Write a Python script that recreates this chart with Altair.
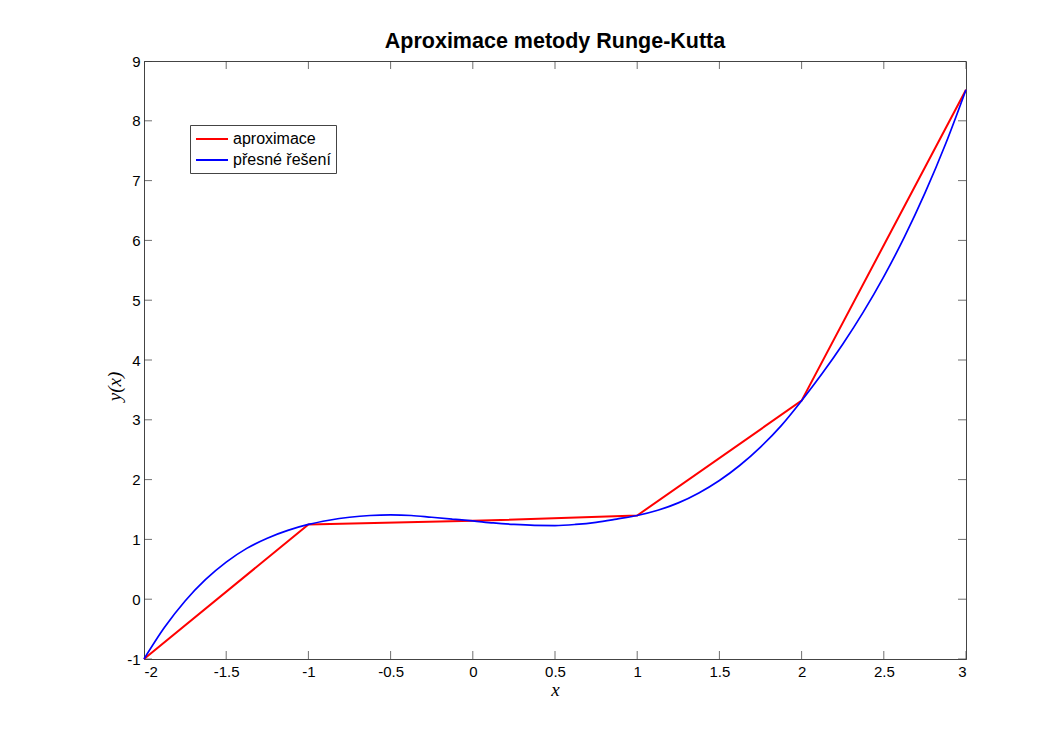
import altair as alt
import pandas as pd

# Runge-Kutta approximation (nodes)
approx_x = [-2, -1, 0, 1, 2, 3]
approx_y = [-1.00, 1.25, 1.31, 1.40, 3.32, 8.52]

# exact solution
exact_x = [-2, -1.875, -1.75, -1.625, -1.5, -1.375, -1.25, -1.125, -1,
           -0.875, -0.75, -0.625, -0.5, -0.375, -0.25, -0.125, 0,
           0.125, 0.25, 0.375, 0.5, 0.625, 0.75, 0.875, 1,
           1.125, 1.25, 1.375, 1.5, 1.625, 1.75, 1.875, 2,
           2.125, 2.25, 2.375, 2.5, 2.625, 2.75, 2.875, 3]
exact_y = [-1.00, -0.47, -0.03, 0.33, 0.62, 0.85, 1.02, 1.15, 1.25,
           1.32, 1.37, 1.40, 1.41, 1.40, 1.37, 1.34, 1.31,
           1.275, 1.25, 1.235, 1.232, 1.25, 1.285, 1.34, 1.40,
           1.487, 1.611, 1.777, 1.985, 2.240, 2.544, 2.899, 3.32,
           3.773, 4.264, 4.801, 5.395, 6.054, 6.789, 7.607, 8.52]

series = ["aproximace", "přesné řešení"]
colors = ["#FF0000", "#0000FF"]

x_ticks = [-2, -1.5, -1, -0.5, 0, 0.5, 1, 1.5, 2, 2.5, 3]
y_ticks = [-1, 0, 1, 2, 3, 4, 5, 6, 7, 8, 9]

df_a = pd.DataFrame({"x": approx_x, "y": approx_y, "s": series[0]})
df_e = pd.DataFrame({"x": exact_x, "y": exact_y, "s": series[1]})

xscale = alt.Scale(domain=[-2, 3], nice=False, zero=False)
yscale = alt.Scale(domain=[-1, 9], nice=False, zero=False)
cscale = alt.Scale(domain=series, range=colors)

FONT = "Liberation Sans"

xaxis = alt.Axis(values=x_ticks, labelExpr="'' + datum.value", ticks=False, grid=False,
                 domainColor="#444444", labelFont=FONT, labelFontSize=15, labelColor="#000000",
                 labelPadding=5, title="x", titleFont="Liberation Serif", titleFontStyle="italic",
                 titleFontWeight="normal", titleFontSize=19, titleColor="#000000",
                 titleY=30, titleBaseline="middle")
yaxis = alt.Axis(values=y_ticks, labelExpr="'' + datum.value", ticks=False, grid=False,
                 domainColor="#444444", labelFont=FONT, labelFontSize=15, labelColor="#000000",
                 labelPadding=4, title="y(x)", titleFont="Liberation Serif", titleFontStyle="italic",
                 titleFontWeight="normal", titleFontSize=19, titleColor="#000000",
                 titleX=-30, titleY=325, titleAngle=-90, titleBaseline="middle", titleAlign="center")

legend = alt.Legend(title=None, orient="none", legendX=46, legendY=64,
                    symbolType="M-1,0H3", symbolSize=256, symbolStrokeWidth=2,
                    labelFont=FONT, labelFontSize=16, labelColor="#000000",
                    strokeColor="#444444", fillColor="#FFFFFF", padding=5, rowPadding=4,
                    labelOffset=20)

approx = alt.Chart(df_a).mark_line(strokeWidth=2).encode(
    x=alt.X("x:Q", scale=xscale, axis=xaxis),
    y=alt.Y("y:Q", scale=yscale, axis=yaxis),
    color=alt.Color("s:N", scale=cscale, legend=legend),
)
exact = alt.Chart(df_e).mark_line(strokeWidth=1.7, interpolate="monotone").encode(
    x=alt.X("x:Q", scale=xscale),
    y=alt.Y("y:Q", scale=yscale),
    color=alt.Color("s:N", scale=cscale, legend=legend),
)

# inward ticks on all four sides (MATLAB box style)
tx = pd.DataFrame({"x": x_ticks * 2, "y": [-1] * len(x_ticks) + [9] * len(x_ticks)})
ty = pd.DataFrame({"x": [-2] * len(y_ticks) + [3] * len(y_ticks), "y": y_ticks * 2})
ticks_x = alt.Chart(tx).mark_tick(orient="vertical", size=16, thickness=1, color="#333333",
                                  clip=True).encode(x=alt.X("x:Q", scale=xscale),
                                                    y=alt.Y("y:Q", scale=yscale))
ticks_y = alt.Chart(ty).mark_tick(orient="horizontal", size=16, thickness=1, color="#333333",
                                  clip=True).encode(x=alt.X("x:Q", scale=xscale),
                                                    y=alt.Y("y:Q", scale=yscale))

chart = alt.layer(ticks_x, ticks_y, approx, exact).properties(
    width=822, height=598,
    title=alt.Title("Aproximace metody Runge-Kutta", font=FONT, fontSize=21.5, fontWeight="bold",
                    color="#000000", anchor="middle", offset=2),
    autosize=alt.AutoSizeParams(type="none"),
    padding={"left": 136, "top": 53, "right": 80, "bottom": 70},
    background="#FFFFFF",
).configure_view(stroke="#444444", strokeWidth=1)

chart.save("out.html", embed_options={"renderer": "svg", "actions": False})
